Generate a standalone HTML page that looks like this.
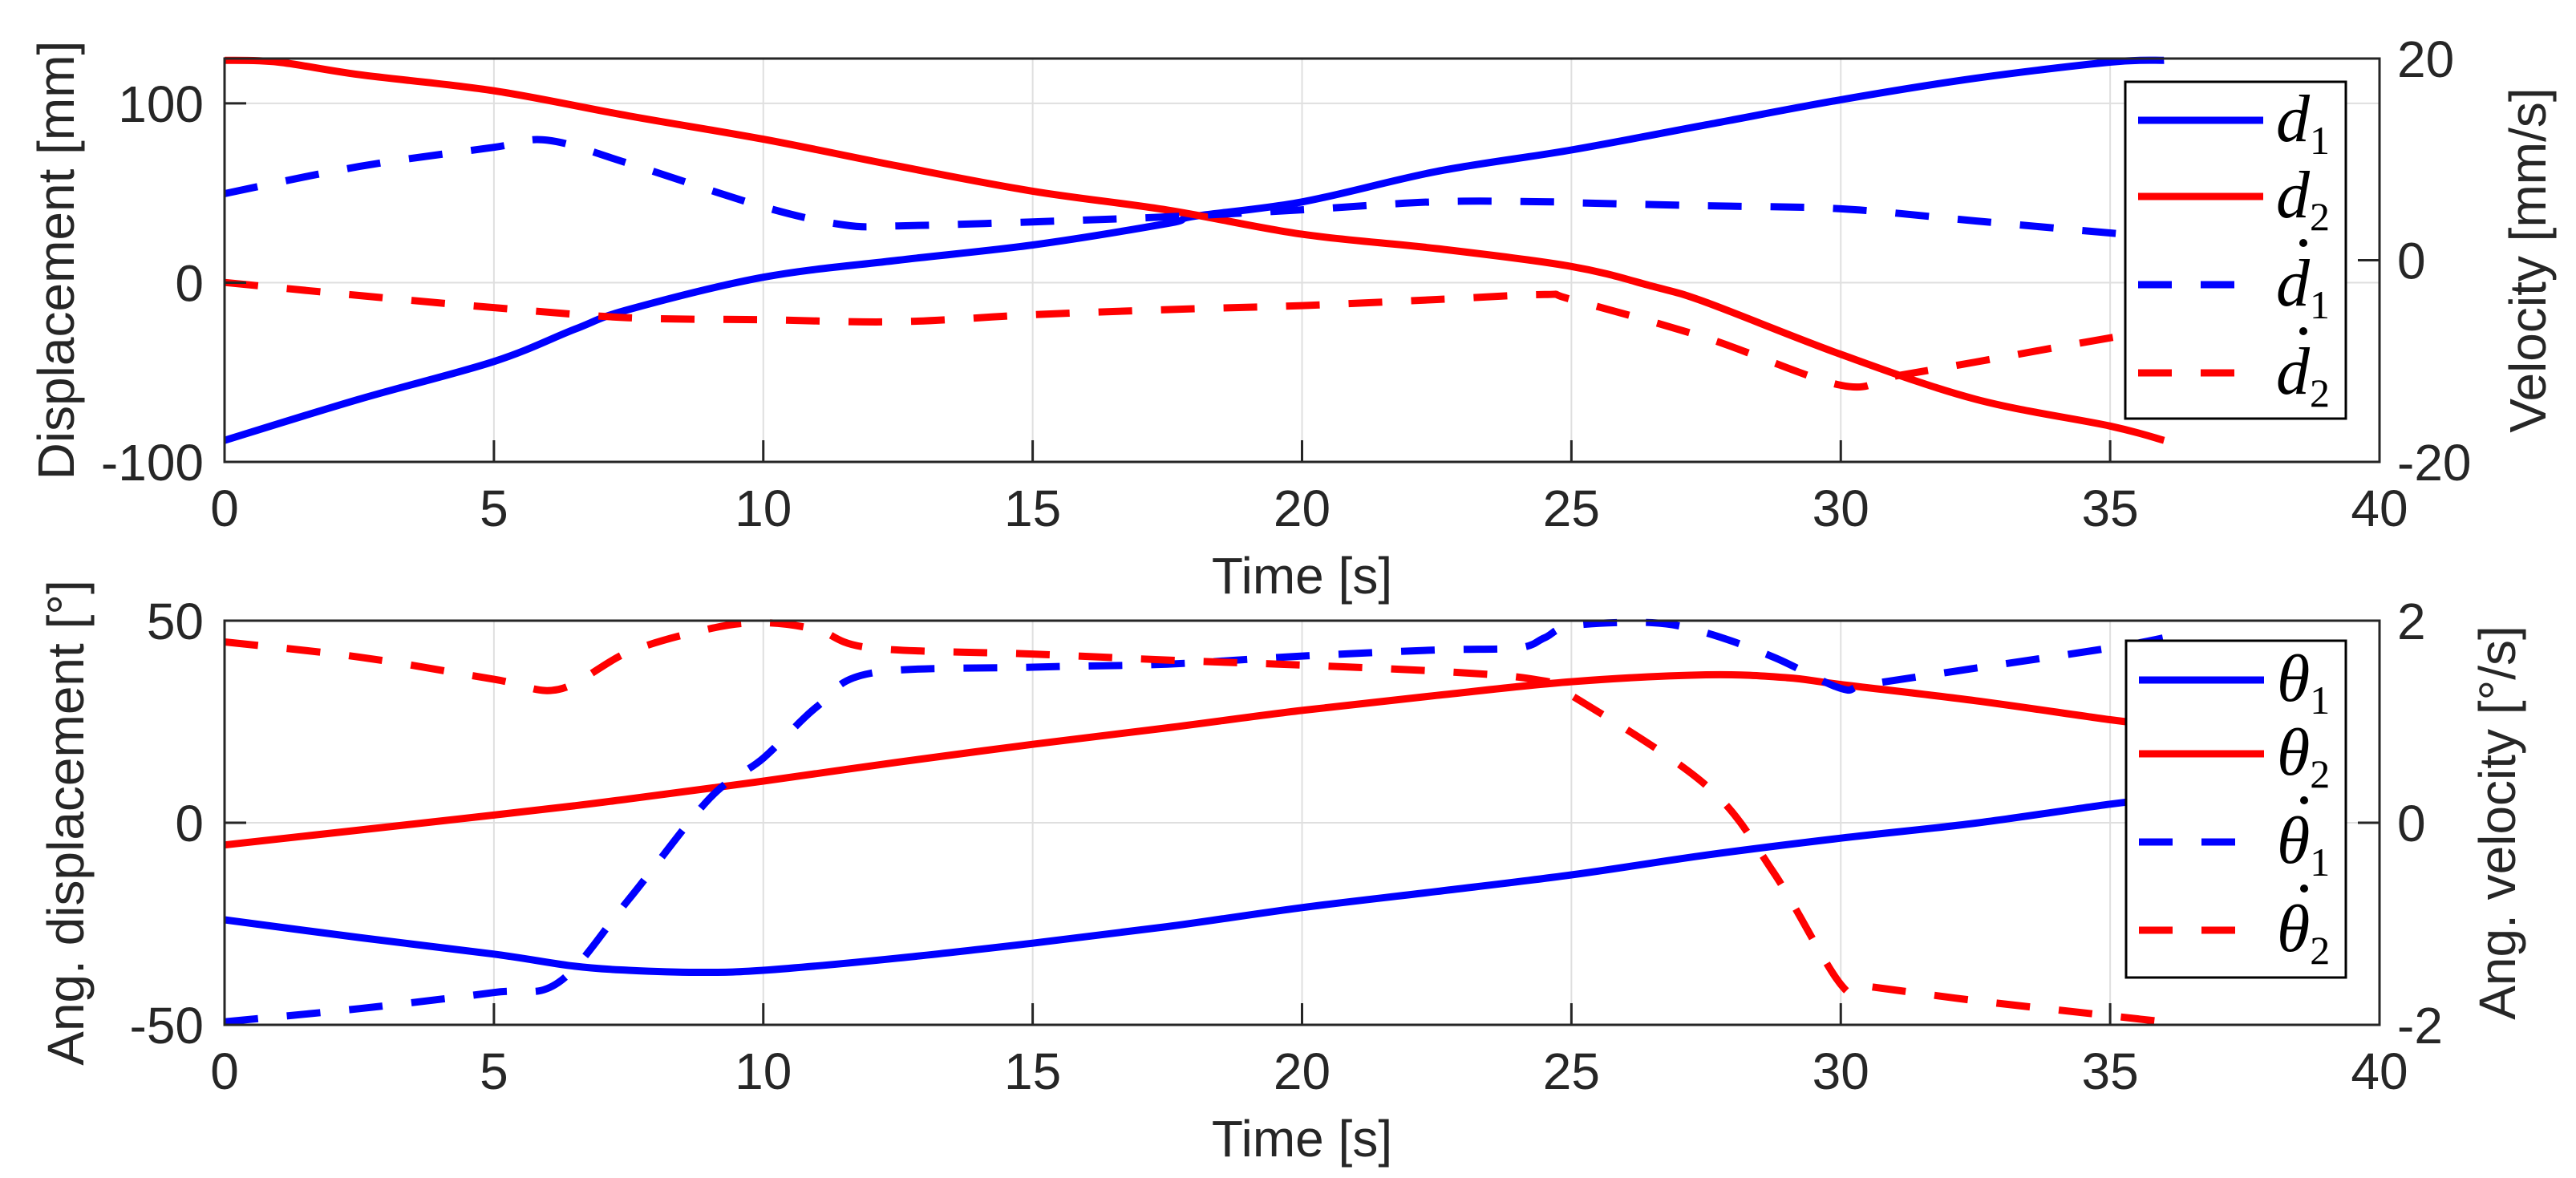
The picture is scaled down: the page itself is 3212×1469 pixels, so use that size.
<!DOCTYPE html>
<html><head><meta charset="utf-8">
<style>
html,body{margin:0;padding:0;background:#fff;}
svg{display:block;}
text{font-family:"Liberation Sans",Arial,sans-serif;fill:#262626;}
.leg{font-family:"Liberation Serif",serif;font-style:italic;fill:#000;}
</style></head>
<body>
<svg id="fig" width="3212" height="1469" viewBox="0 0 3212 1469" xmlns="http://www.w3.org/2000/svg"></svg>
<script>
// ---- Top panel data ----
const tD1 = [0,2.5,5,6.5,7.5,10,12.5,15,17.5,18,20,22.5,25,27.5,30,32.5,35,36];
const d1 = [-88,-65,-44,-26,-15,3,12.5,21,33,37,45,62,74,88,102,114,123,124];
const tD2 = [0,1,2.5,5,7.5,10,12.5,15,17.5,20,22.5,25,26.5,27.5,30,32.5,35,36];
const d2 = [124,123,116,107,93,80,65,51,40.5,27,19,9,-2,-11,-40,-65,-80,-88];
const tD1dot = [0,2.5,5,6,7.5,10,11.5,12.5,15,17.5,20,22.5,24.5,25,27.5,30,32.5,35,36];
const d1dot = [6.6,9.3,11.2,11.9,9.6,5.3,3.5,3.4,3.8,4.3,5.0,5.8,5.8,5.7,5.4,5.1,3.9,2.7,2.3];
const tD2dot = [0,2.5,5,7.5,10,12.5,15,17.5,20,22.5,24.5,25,27.5,30,31,32.5,35,36];
const d2dot = [-2.2,-3.5,-4.7,-5.7,-5.9,-6.1,-5.4,-4.9,-4.5,-3.9,-3.4,-3.9,-7.7,-12.4,-11.5,-10.1,-7.7,-7];
// ---- Bottom panel data ----
const tTh1 = [0,2.5,5,6.5,7.5,8.75,10,12.5,15,17.5,20,22.5,25,27.5,30,32.5,35,36];
const th1 = [-24,-28.4,-32.5,-35.5,-36.5,-37,-36.5,-33.5,-29.8,-25.7,-21,-17,-12.9,-8,-3.8,-0.1,4.6,6];
const tTh2 = [0,2.5,5,6.5,7.5,10,12.5,15,17.5,20,22.5,25,27.5,29,30,32.5,35,36];
const th2 = [-5.5,-1.8,1.9,4.2,5.9,10.3,15,19.4,23.5,27.8,31.5,34.9,36.6,35.9,34.2,30.2,25.5,24];
const tTh1dot = [0,2.5,5,6.2,7.5,9,10,11,12,15,17.5,20,22.5,24,24.5,25,26.5,27.5,28.75,30,30.5,32.5,35,36];
const th1dot = [-1.97,-1.84,-1.68,-1.58,-0.76,0.24,0.64,1.15,1.48,1.54,1.57,1.65,1.71,1.73,1.83,1.95,1.98,1.88,1.64,1.33,1.37,1.53,1.73,1.83];
const tTh2dot = [0,2.5,5,6.2,7.5,9,10,11,12,15,17.5,20,22.5,24.3,25,27.5,28.75,30,30.5,32.5,35,36];
const th2dot = [1.79,1.64,1.42,1.32,1.69,1.92,1.98,1.91,1.73,1.67,1.61,1.56,1.50,1.42,1.26,0.37,-0.49,-1.60,-1.62,-1.76,-1.91,-1.97];
// ---- ticks ----
const xTicks = [0,5,10,15,20,25,30,35,40];
const topLeftTicks = [-100,0,100];
const topRightTicks = [-20,0,20];
const botLeftTicks = [-50,0,50];
const botRightTicks = [-2,0,2];

const NS = "http://www.w3.org/2000/svg";
const svg = document.getElementById('fig');
function mk(tag, attrs, parent){ const e=document.createElementNS(NS,tag); for(const k in attrs) e.setAttribute(k,attrs[k]); (parent||svg).appendChild(e); return e; }

const X0=280, X1=2967, FS=64;
function xs(t){ return X0 + (t/40)*(X1-X0); }
function panel(cfg){
  const {top,bot,lmin,lmax,rmin,rmax,lt,name} = cfg;
  const yl = v => bot - (v-lmin)/(lmax-lmin)*(bot-top);
  const yr = v => bot - (v-rmin)/(rmax-rmin)*(bot-top);
  const g = mk('g',{});
  
  
  xTicks.forEach(t=>{ const l=mk('line',{x1:xs(t),x2:xs(t),y1:top,y2:bot,stroke:'#dfdfdf','stroke-width':2},g);
      });
  lt.forEach(v=>{ const l=mk('line',{x1:X0,x2:X1,y1:yl(v),y2:yl(v),stroke:'#dfdfdf','stroke-width':2},g);
      });
  return {g,yl,yr,top,bot};
}
function smoothPath(P){
  let d='M'+P[0][0].toFixed(1)+','+P[0][1].toFixed(1);
  for(let i=0;i<P.length-1;i++){
    const p0=P[i-1]||P[i], p1=P[i], p2=P[i+1], p3=P[i+2]||P[i+1];
    const c1=[p1[0]+(p2[0]-p0[0])/6, p1[1]+(p2[1]-p0[1])/6];
    const c2=[p2[0]-(p3[0]-p1[0])/6, p2[1]-(p3[1]-p1[1])/6];
    d+=` C${c1[0].toFixed(1)},${c1[1].toFixed(1)} ${c2[0].toFixed(1)},${c2[1].toFixed(1)} ${p2[0].toFixed(1)},${p2[1].toFixed(1)}`;
  }
  return d;
}
function series(p, ts, vs, yf, color, dashed, nm){
  const P = ts.map((t,i)=>[xs(t), yf(vs[i])]);
  const a = {d:smoothPath(P),fill:'none',stroke:color,'stroke-width':9,'stroke-linejoin':'round'};
  if(dashed) a['stroke-dasharray']='42 36';
  const e = mk('path',a,p.g);
  
  
}
function axes(p, lt, rt, yl, yr, xlab, xlabY, llab, llabX, rlab, rlabX){
  const {g,top,bot} = p;
  const box = mk('rect',{x:X0,y:top,width:X1-X0,height:bot-top,fill:'none',stroke:'#262626','stroke-width':3},g);
   
  xTicks.forEach(t=>{
    mk('line',{x1:xs(t),x2:xs(t),y1:bot,y2:bot-27,stroke:'#262626','stroke-width':3},g);
    const tx=mk('text',{x:xs(t),y:bot+80,'font-size':FS,'text-anchor':'middle'},g); tx.textContent=t;
     
  });
  lt.forEach(v=>{
    mk('line',{x1:X0,x2:X0+27,y1:yl(v),y2:yl(v),stroke:'#262626','stroke-width':3},g);
    const tx=mk('text',{x:X0-26,y:yl(v)+23,'font-size':FS,'text-anchor':'end'},g); tx.textContent=v;
     
  });
  rt.forEach(v=>{
    mk('line',{x1:X1,x2:X1-27,y1:yr(v),y2:yr(v),stroke:'#262626','stroke-width':3},g);
    const tx=mk('text',{x:X1+22,y:yr(v)+23,'font-size':FS,'text-anchor':'start'},g); tx.textContent=v;
     
  });
  const xl=mk('text',{x:(X0+X1)/2,y:xlabY,'font-size':FS,'text-anchor':'middle'},g); xl.textContent=xlab;
   
  const cy=(top+bot)/2;
  const ll=mk('text',{x:0,y:0,'font-size':FS,'text-anchor':'middle',transform:`translate(${llabX},${cy}) rotate(-90)`,'xml:space':'preserve'},g); ll.textContent=llab;
   
  const rl=mk('text',{x:0,y:0,'font-size':FS,'text-anchor':'middle',transform:`translate(${rlabX},${cy}) rotate(-90)`,'xml:space':'preserve'},g); rl.textContent=rlab;
   
}
function legend(p, x, y, w, h, rows, sym){
  const lg = mk('g',{},p.g);
  
  
  mk('rect',{x:x,y:y,width:w,height:h,fill:'#fff',stroke:'#000','stroke-width':3},lg);
  rows.forEach((r)=>{
    const yy = r.y;
    const a={x1:x+16,x2:x+172,y1:yy,y2:yy,stroke:r.c,'stroke-width':9};
    if(r.d) a['stroke-dasharray']='42 36';
    mk('line',a,lg);
    const t=mk('text',{x:x+188,y:yy+26,'font-size':84,'class':'leg'},lg);
     
    const m=mk('tspan',{},t); m.textContent=sym;
    const s=mk('tspan',{'font-size':50,'font-style':'normal',dy:16},t); s.textContent=r.sub;
    if(r.d){ mk('circle',{cx:x+222,cy:yy-52,r:5,fill:'#000'},lg); }
  });
}

// Top panel
const P1 = panel({top:73,bot:576,lmin:-100,lmax:125,rmin:-20,rmax:20,lt:topLeftTicks,name:'displacement-panel'});
series(P1,tD1,d1,P1.yl,'#0000ff',false,'d1-line');
series(P1,tD2,d2,P1.yl,'#ff0000',false,'d2-line');
series(P1,tD1dot,d1dot,P1.yr,'#0000ff',true,'d1dot-line');
series(P1,tD2dot,d2dot,P1.yr,'#ff0000',true,'d2dot-line');
axes(P1,topLeftTicks,topRightTicks,P1.yl,P1.yr,'Time [s]',740,'Displacement [mm]',92,'Velocity [mm/s]',3174);
legend(P1,2650,102,275,420,[{c:'#0000ff',sub:'1',y:150},{c:'#ff0000',sub:'2',y:245},{c:'#0000ff',sub:'1',y:355,d:true},{c:'#ff0000',sub:'2',y:465,d:true}],'d');

// Bottom panel
const P2 = panel({top:774,bot:1278,lmin:-50,lmax:50,rmin:-2,rmax:2,lt:botLeftTicks,name:'angle-panel'});
series(P2,tTh1,th1,P2.yl,'#0000ff',false,'theta1-line');
series(P2,tTh2,th2,P2.yl,'#ff0000',false,'theta2-line');
series(P2,tTh1dot,th1dot,P2.yr,'#0000ff',true,'theta1dot-line');
series(P2,tTh2dot,th2dot,P2.yr,'#ff0000',true,'theta2dot-line');
axes(P2,botLeftTicks,botRightTicks,P2.yl,P2.yr,'Time [s]',1442,'Ang.  displacement  [°]',104,'Ang.  velocity  [°/s]',3136);
legend(P2,2651,799,274,420,[{c:'#0000ff',sub:'1',y:848},{c:'#ff0000',sub:'2',y:940},{c:'#0000ff',sub:'1',y:1050,d:true},{c:'#ff0000',sub:'2',y:1160,d:true}],'θ');
</script>
</body></html>
